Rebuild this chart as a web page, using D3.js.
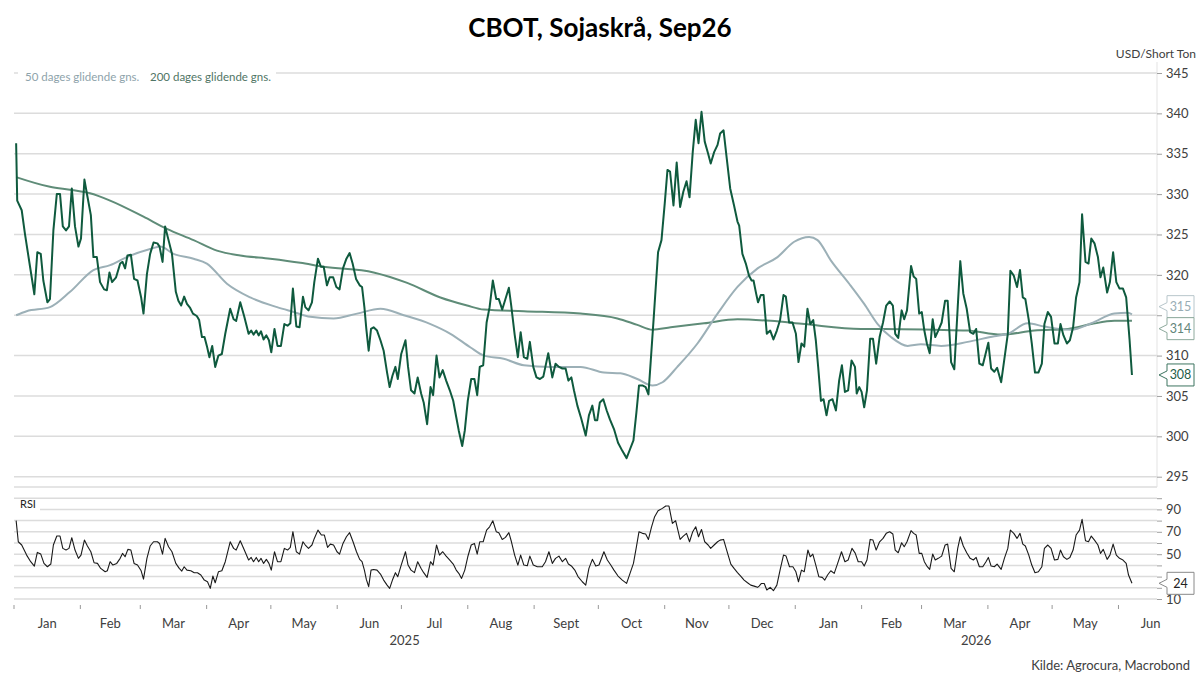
<!DOCTYPE html>
<html>
<head>
<meta charset="utf-8">
<script src="https://cdn.jsdelivr.net/npm/d3@7"></script>
<style>
body { margin: 0; background: #fff; }
svg { font-family: Lato, "Open Sans", sans-serif; }
</style>
</head>
<body>
<div id="chart"></div>
<script>
// day offsets from 2025-01-01, value
const priceData = [[1,336.3],[1.5,329.2],[3.6,328],[5.1,325.1],[7.5,321],[9.5,317.6],[10.9,322.8],[12.5,322.6],[13.7,319.3],[15.6,316.6],[16.8,317],[18.4,325.5],[20,330],[21.5,330],[22.8,326],[24.3,325.5],[25.7,326],[27,330.7],[28.5,326],[30.1,323.5],[31.3,324.5],[32.9,331.8],[34.3,329.7],[35.9,327.4],[37.1,322.2],[38.7,322.2],[40.2,319.1],[42.1,318.2],[43.4,318.1],[44.6,320.3],[45.8,319.1],[47.7,319.7],[49.6,321.4],[50.7,321.6],[51.9,320.8],[53,322.4],[54.6,322.5],[56.1,319.5],[57.7,319.3],[59.4,317.2],[60.5,315.2],[62.1,320.1],[63.6,322.6],[65.2,324],[67,323.9],[68,323.5],[69.4,321.6],[70.6,326],[72.2,324.3],[73.8,322.6],[75.6,317.9],[76.8,316.8],[78.1,316.2],[79.5,317.3],[80.8,316.4],[82.3,315.9],[83.6,315.2],[85.4,314.9],[86.5,314.4],[87.8,312.3],[89,312.3],[90.1,311.2],[91.3,309.8],[92.6,311.2],[94,308.6],[95.5,310],[97.1,310.2],[98.7,312.7],[101,315.8],[102.6,314.5],[103.8,314.3],[105.7,316.6],[107.6,314.8],[109.6,312.7],[110.8,313.1],[111.9,312.6],[113.2,313.1],[114.3,312.5],[115.4,313],[116.6,312],[117.9,312.5],[119.1,311.9],[120.2,310.4],[121.7,313.3],[123.1,311.2],[124.7,311.2],[126.3,313.9],[127.8,313.7],[129.1,314],[130.3,318.3],[131.9,313.6],[133.4,313.5],
[135,317.3],[136.1,316],[137.6,315.6],[139.2,316.6],[140.3,319.1],[142,322],[143.4,321],[144.7,321],[146.2,318.7],[147.5,319.7],[149.1,319.7],[150.6,318.5],[152.1,318.2],[153.7,320.8],[155.3,322],[156.8,322.7],[158.2,321.4],[159.8,319.5],[161.5,318.7],[162.6,318.5],[163.7,316],[164.6,313.3],[165.7,310.6],[166.8,313.3],[168,313.5],[169.6,313.1],[171.2,311.9],[172.7,310.6],[174.3,307.9],[175.5,306.1],[176.8,307.5],[178.2,308.6],[179.3,307.1],[180.9,310.2],[182.9,311.9],[184.1,308.6],[185.5,305.7],[187.1,305.3],[188.6,307.3],[190.2,305.3],[191.4,304.2],[193,301.5],[194.6,306.1],[195.8,305.1],[197.4,310],[198.8,307.3],[200.3,308.2],[201.9,306.9],[203.6,305.7],[205.2,304.4],[206.6,302.4],[207.8,300.7],[209.4,298.8],[210.6,300.7],[212,304.4],[213.6,307.1],[215.1,307.1],[216.4,305.1],[217.6,308.6],[219.2,308.8],[220.8,314.1],[222.2,316],[223.7,319.3],[225.3,317],[226.5,317],[228.1,315.7],[229.6,317],[231.2,318.4],[232.3,316.2],[233.9,312.6],[235.4,309.8],[236.7,312.9],[238.2,309.8],[239.8,309.6],[241,311.7],[242.6,308.6],[244.1,307.3],[245.7,307.1],[247.3,307.4],[249.6,310.3],[251.5,307.3],[253,309],[254.6,308.6],[256.2,308.4],[257.7,308.4],[259,306.9],[260.4,307.3],[261.6,305.7],[263.2,303.8],[265,302.2],[267.1,300.1],[268.6,302.6],[270.2,303.8],[271.4,302],[272.5,302],[273.7,304.2],[275.3,304.6],[276.9,303.2],[278.4,302.1],[280.3,300.9],[282.2,299.2],[284.2,298.2],[286.2,297.3],[287.8,298.4],[289.4,299.5],[290.8,303],[292,306.3],[293.6,306.3],[295.1,306.1],[296.4,305.2],[297.5,309.4],[299,315.2],[300.9,322.8],[302.5,324.3],[304,328.8],[305.3,333],[306.5,332.8],[308.1,328.6],[309.6,333.9],[311.2,328.4],[312.7,330.3],[314.2,331.6],[315.6,329.6],[317.1,335.2],[318.5,339.2],[319.8,336.3],[321.2,340.2],[322.7,336.5],[324.3,335],[325.5,333.8],[327.1,335.2],[328.7,336.1],[329.9,337.5],[331.5,337.9],[333,334.4],[334.6,330.7],[336.4,328.6],[338,326.6],[338.8,326.1],[340.3,322.6],[341.9,321.4],[343.4,319.9],[344.6,319.3],[345.5,319.3],[346.7,317.7],[347.6,316.6],[348.9,317.5],[350.2,317.5],[351.7,312.7],[353.3,313.1],[354.8,312],[356.4,313.1],[357.9,314.4],[359.5,317.5],[360.6,317.3],[362.1,314.1],[363.7,314.1],[365.3,312.7],[366.5,309.2],[367.9,311.5],[369.2,311.1],[370.7,315.8],[372,313.9],[373.4,314.4],[374.6,311.9],[375.7,308.6],[377,304.4],[378.2,304.6],[379.6,302.6],[380.8,304.4],[382.4,304.6],[384,303.2],[385.5,306.9],[386.8,308.8],[388.2,305.5],[389.7,305.7],[391.3,309.4],[392.9,308.6],[393.7,305.3],[394.9,306.1],[396,305.5],[397.2,303.6],[398.5,305.7],[400,312.1],[401.3,312.1],[402.8,309],[404.4,312.3],[406,314.1],[407.5,316.2],[409.1,316.7],[410.6,316.2],[411.7,312.7],[413.1,312.2],[414.7,315.6],[415.9,314.5],[417.2,315.6],[419.1,321.1],[420.3,319.8],[421.5,319.5],[422.9,315.2],[424.1,315.4],[425.3,313.1],[426.5,311.5],[427.8,310.3],[429.2,314.5],[430.4,312.3],[431.8,313.1],[433.4,314.1],[435,316.8],[436.2,316.8],[437.8,309.2],[439.3,308.3],[440.9,316],[442.1,321.7],[443.5,317.7],[445.1,315.8],[446.7,312.9],[448.2,312.7],[449.5,313.3],[451,309],[452.6,308.8],[454.1,310.4],[455.2,311.6],[456.5,308.4],[458,308],[459.3,308.5],[461.2,306.7],[462.7,309.6],[464.3,312.7],[465.5,320.5],[467.1,319.9],[468.6,318.5],[470,320.6],[471.3,317.2],[472.5,317],[474.1,314.4],[475.5,311.5],[477,307.9],[478.6,307.9],[480.2,309],[481.4,313.9],[483,315.4],[484.5,314.8],[486.1,311.5],[487.7,311.5],[488.9,313.9],[490.3,312.5],[491.9,311.5],[493.3,311.9],[494.8,313.5],[496.2,317.2],[497.8,319.1],[499,327.5],[500.6,321.6],[502,321.4],[503.3,324.5],[504.8,323.9],[506.4,322.2],[507.6,319.7],[508.9,320.9],[510.7,317.8],[512,319.1],[513.5,322.8],[515,319.1],[516.5,318.3],[518.1,318.3],[519.6,317.2],[521.2,311.9],[522.3,307.6]];

const ma50Data = [[1,315],[5.9,315.5],[16.8,316],[26.2,317.9],[37.1,320.6],[44.9,321.2],[52.7,322.2],[63.6,323.2],[68.3,323.5],[74.5,322.6],[83.9,322],[90.1,321.4],[99.5,318.9],[110.4,317.2],[122.9,316],[130.6,315.4],[138.4,314.8],[149.3,314.6],[160.3,315.2],[171.2,315.8],[182.1,315],[194.6,313.9],[203.9,312.7],[213.3,311],[219.5,310],[228.8,309.6],[238.2,308.8],[250.7,308.6],[264.7,308.6],[275.6,307.9],[283.4,307.8],[291.2,307.1],[298.3,306.3],[303,306.7],[309.9,308.6],[319.3,311.5],[328.7,315.2],[338,318.5],[347.4,320.8],[356.7,322.2],[364.5,324.1],[371.5,324.7],[375.4,324.3],[381.6,321.8],[390.2,318.9],[397.2,316.4],[403.5,313.9],[409.7,312.3],[417.5,311.2],[423.7,311.4],[433.1,311.2],[445.6,311.7],[458,312.4],[464.3,312.7],[473.6,314],[481.4,313.6],[493.9,313.2],[503.3,314],[514.1,315.2],[520.4,315.3],[522.3,315.1]];

const ma200Data = [[1,332.1],[16.8,330.9],[27,330.5],[35.5,330.1],[44.9,329.2],[60.5,327.2],[71.4,325.7],[83.9,324.3],[94.8,323],[105.7,322.4],[119.7,322],[133.8,321.5],[144.7,321],[168,320.3],[183.7,319],[199.2,317.2],[211.7,316.2],[219.5,315.7],[238.2,315.5],[264.7,315.2],[281.9,314.6],[291.2,313.8],[298.3,313.2],[306.8,313.5],[322.4,314],[338,314.5],[353.6,314.3],[369.2,313.9],[395.7,313.3],[406.6,313.3],[430,313.2],[445.6,313.1],[461.2,312.6],[476.7,313.1],[492.4,313.3],[503.3,313.9],[514.1,314.3],[522.3,314.3]];

const rsiData = [[1,80],[2,61.1],[3.6,58.2],[5.9,49.2],[7.8,43.3],[9.5,39.4],[10.9,51.6],[12.5,50.1],[14,41.8],[15.6,38.8],[17.2,41.2],[18.4,58.2],[20,66.2],[21.5,66.2],[22.8,55.2],[24.3,53.7],[25.7,55.2],[27,64.7],[28.5,53.7],[30.1,46.3],[31.3,49.2],[32.9,62.6],[34.3,57.3],[35.9,52.2],[37.4,42.4],[39,41.8],[40.5,37.3],[42.6,34.3],[43.6,35.2],[44.9,43.3],[46.2,40.3],[48,41.8],[49.6,46.3],[50.7,50.7],[51.9,47.7],[53.2,54.3],[54.6,53.7],[56.1,41.8],[57.7,40.3],[59.4,35.2],[60.5,27.8],[62.1,46.3],[63.6,57.3],[65.2,61.1],[67,61.1],[68,59.6],[69.4,50.1],[70.6,64.1],[72.2,56.7],[73.8,52.2],[75.6,41.8],[77.2,37.3],[78.4,34.9],[79.5,38.8],[80.8,35.8],[82.6,35.2],[84.2,33.5],[85.7,33.5],[87.3,31.4],[88.9,26.9],[90.4,25.4],[91.7,19.5],[92.9,30.5],[94,24.5],[95.5,34.3],[97.1,35.2],[98.7,43.3],[101,61.1],[102.6,55.2],[103.8,53.7],[105.7,62],[107.6,53.7],[109.6,44.8],[110.8,47.1],[111.9,43.3],[113.2,47.1],[114.3,43.3],[115.4,46.3],[116.6,41.8],[117.9,45.4],[119.1,41.8],[120.2,35.8],[121.7,52.2],[123.1,43.3],[124.7,43.3],[126.3,55.2],[127.8,53.7],[129.1,56.1],[130.3,70.1],[131.9,52.2],[133.4,50.1],[135,61.1],[136.1,58.2],[137.6,55.2],[139.2,58.2],[140.3,64.1],[142,71.5],[143.6,67.1],[145,67.1],[146.5,56.1],[147.8,59],[149.3,58.2],[150.9,52.2],[152.1,50.1],[153.7,59.6],[155.3,65.6],[156.8,69.2],[158.4,61.1],[160,52.2],[161.5,45.4],[162.6,43.3],[163.7,35.8],[164.6,27.5],[165.7,21],[166.8,35.8],[168,36.4],[169.6,35.8],[171.2,32.3],[172.7,26.9],[174.3,22.4],[175.5,19.5],[176.8,26.9],[178.2,33.5],[179.3,29.9],[180.9,40.3],[182.9,52.2],[184.1,40.3],[185.5,35.8],[187.1,33.5],[188.6,43.3],[190.2,37.3],[191.4,33.5],[193,29.3],[194.6,43.3],[195.8,40.3],[197.4,58.2],[198.8,49.2],[200.3,52.2],[201.9,48.3],[203.6,44.8],[205.2,41.2],[206.6,35.8],[207.8,32.9],[209.1,28.4],[210.6,35.8],[212,47.7],[213.6,58.2],[215.1,59.6],[216.4,50.1],[217.6,61.1],[219.2,61.1],[220.8,71.5],[222.2,74.5],[223.7,79.9],[225.3,70.1],[226.5,69.2],[228.1,63.2],[229.6,65],[231.2,69.2],[232.4,61.1],[233.9,49.2],[235.4,40.3],[236.7,49.2],[238.2,40.3],[239.8,39.7],[241,48.3],[242.6,40.3],[244.5,38.8],[246.8,38.8],[248.3,43.3],[249.9,52.2],[251.5,41.8],[253,46.3],[254.6,48.3],[256.2,43.3],[257.7,46.3],[259,41.2],[260.4,39.5],[262,35.8],[263.5,30],[265.5,25.4],[267.1,22.4],[268.6,37.3],[270.2,45.4],[271.8,39.4],[273.3,40.3],[275.6,52.2],[277.2,44.8],[278.8,40.3],[280.3,35.8],[282.2,30.5],[284.2,26.9],[286.2,23.9],[287.8,32.9],[289.4,41.8],[290.8,56.7],[292,70.1],[293.6,68.6],[295.1,68],[296.4,63.2],[297.8,73.9],[299.3,83.5],[300.9,88.8],[302.9,90.9],[304.5,93],[306,93],[307.6,77.5],[309.1,79.9],[311.2,63.2],[312.7,66.2],[314.2,68.6],[315.6,61.1],[317.1,70.1],[318.5,74.5],[319.8,65.6],[321.2,72.1],[322.7,61.1],[324.3,58.2],[325.5,55.2],[327.1,58.2],[328.7,61.1],[329.9,62.6],[331.5,63.2],[333.4,50.7],[334.9,41.2],[336.4,37.3],[338,33.5],[339.5,30.5],[341.1,26.9],[342.7,24.5],[344.2,22.4],[345.8,21.5],[347.4,20.4],[348.1,21.5],[349.2,23.9],[350.5,23.9],[351.7,18],[353.3,20.4],[354.8,17.4],[356.4,22.4],[357.9,35.8],[359.5,49.2],[360.7,48.3],[362.3,38.8],[363.9,38.8],[365.3,34.3],[366.5,25.4],[367.9,35.8],[369.2,34.3],[370.9,53.7],[372,47.7],[373.2,50.1],[374.6,40.3],[376,29.9],[377.6,29.3],[378.8,26.9],[380.1,31.4],[381.6,35.2],[383.2,32.9],[384.8,41.8],[386.6,52.2],[388.2,43.3],[389.7,44.8],[391.5,55.2],[393,51],[394.4,43.3],[396,43.3],[397.2,39.4],[398.5,44.8],[400,63.2],[401.3,62.6],[402.8,53.7],[404.4,61.1],[406,64.1],[407.5,68.6],[409.1,70.1],[410.6,68],[411.7,53.7],[413.1,51.3],[414.7,60.2],[415.9,56.7],[417.2,61.1],[419.1,71],[420.3,68.6],[421.5,67.1],[422.9,50.7],[424.1,50.7],[425.3,43.3],[426.5,39.4],[427.8,36.4],[429.2,50.1],[430.4,44.8],[431.8,46.3],[433.4,48.3],[435,58.2],[436.2,59],[437.8,37.3],[439.3,34.3],[440.9,55.2],[442.1,65.6],[443.5,57.3],[445.1,51.3],[446.7,46.3],[448.2,44.8],[449.5,47.1],[451,38.8],[452.6,38.8],[454.1,43.3],[455.2,47.1],[456.5,39.4],[458,38.8],[459.3,41.2],[461.2,36.4],[462.7,46.3],[464.3,55.2],[465.5,71.5],[467.1,68.6],[468.6,64.1],[470,68.6],[471.3,59],[472.5,57.3],[474.1,49.2],[475.5,40.3],[477,33.5],[478.6,34.3],[480.2,38.8],[481.4,55.2],[483,58.2],[484.5,55.2],[486.1,44.8],[487.7,45.4],[488.9,53.7],[490.3,47.7],[491.9,45.4],[493.3,47.1],[494.8,53.7],[496.2,67.1],[497.8,71.5],[499,81.1],[500.6,62],[502,61.1],[503.3,66.2],[504.8,62.6],[506.4,58.2],[507.6,50.7],[508.9,54.3],[510.7,45.4],[512,49.2],[513.5,59],[515,49.2],[516.5,46.3],[518.1,44.8],[519.6,41.8],[520.7,31.4],[522.3,24]];

const monthNames = ["Jan","Feb","Mar","Apr","May","Jun","Jul","Aug","Sept","Oct","Nov","Dec"];
const priceTicks = [295,300,305,310,315,320,325,330,335,340,345];
const rsiGrid = [10,20,30,40,50,60,70,80,90,100,110];
const rsiTickMarks = [10,20,30,40,50,60,70,80,90,100];
const rsiLabels = [10,30,50,70,90];

const width = 1200, height = 683;
const left = 14, right = 1157;
const t0 = Date.UTC(2025,0,1);
const toDate = d => new Date(t0 + d*864e5);

const svg = d3.select('#chart').append('svg')
    .attr('width', width).attr('height', height);

const x = d3.scaleUtc().domain([new Date(t0), new Date(Date.UTC(2026,5,19))]).range([left, right]);
const y = d3.scaleLinear().domain([295,345]).range([476.7,73]);
const yr = d3.scaleLinear().domain([0,110]).range([610.2,487]);

const gridColor = '#dcdcdc', textColor = '#404040';
const c50 = '#9cb0b7', c200 = '#5f8c78', cPrice = '#0f5a3e';

// last-value callout positions (the two moving averages are spread apart)
const last = a => a[a.length-1][1];
const yA = y(last(ma50Data)), yB = y(last(ma200Data));
const mid = (yA + yB) / 2;
const callouts = [
  {tip: mid - 11, v: last(ma50Data), stroke: '#b8c6cb', color: '#98adb4'},
  {tip: mid + 11, v: last(ma200Data), stroke: '#8eaa9d', color: '#62857a'},
  {tip: y(last(priceData)), v: last(priceData), stroke: '#3d7460', color: '#1f5e47'},
  {tip: yr(last(rsiData)), v: last(rsiData), stroke: '#8a8a8a', color: '#222'}
];
const hidden = py => callouts.some(c => Math.abs(c.tip - py) < 14);

// title
svg.append('text').attr('x', 600).attr('y', 37).attr('text-anchor','middle')
    .style('font-size','26px').style('font-weight','bold').style('fill','#000')
    .text('CBOT, Sojaskrå, Sep26');

svg.append('text').attr('x', 1196).attr('y', 58).attr('text-anchor','end')
    .style('font-size','12px').style('fill',textColor).text('USD/Short Ton');

// gridlines
svg.append('g').selectAll('line').data(priceTicks).enter().append('line')
    .attr('x1', left).attr('x2', right).attr('y1', d=>y(d)).attr('y2', d=>y(d))
    .style('stroke', gridColor).style('stroke-width', 1.5);
svg.append('g').selectAll('line').data(rsiGrid).enter().append('line')
    .attr('x1', left).attr('x2', right).attr('y1', d=>yr(d)).attr('y2', d=>yr(d))
    .style('stroke', gridColor).style('stroke-width', 1.5);

// right axis line
svg.append('line').attr('x1', right).attr('x2', right).attr('y1', 62).attr('y2', 487)
    .style('stroke', '#e3e3e3').style('stroke-width', 1);

// price axis
const yAxis = d3.axisRight(y).tickValues(priceTicks).tickSize(5).tickPadding(4).tickSizeOuter(0)
    .tickFormat(d => hidden(y(d)) ? '' : d);
const gy = svg.append('g').attr('transform','translate(' + right + ',0)').call(yAxis);
gy.select('.domain').remove();
gy.selectAll('.tick line').style('stroke','#a0a0a0');
gy.selectAll('.tick text').style('font-size','13px').style('fill',textColor).style('font-family','Lato, sans-serif');

// rsi axis
const rAxis = d3.axisRight(yr).tickValues(rsiTickMarks).tickSize(5).tickPadding(4)
    .tickFormat(d => rsiLabels.includes(d) && !hidden(yr(d)) ? d : '');
const gr = svg.append('g').attr('transform','translate(' + right + ',0)').call(rAxis);
gr.select('.domain').remove();
gr.selectAll('.tick line').style('stroke','#a0a0a0');
gr.selectAll('.tick text').style('font-size','13px').style('fill',textColor).style('font-family','Lato, sans-serif');

// x axis ticks at month starts
const monthStarts = d3.utcMonth.range(new Date(t0), new Date(Date.UTC(2026,5,2)));
svg.append('g').selectAll('line').data(monthStarts).enter().append('line')
    .attr('x1', d=>x(d)).attr('x2', d=>x(d)).attr('y1', 605).attr('y2', 609)
    .style('stroke','#999').style('stroke-width',1);
const months = d3.utcMonth.range(new Date(t0), new Date(Date.UTC(2026,6,1)));
svg.append('g').selectAll('text').data(months).enter().append('text')
    .attr('x', d => (x(d) + x(d3.utcMonth.offset(d,1)))/2)
    .attr('y', 628).attr('text-anchor','middle')
    .style('font-size','13px').style('fill',textColor)
    .text(d => monthNames[d.getUTCMonth()]);
const years = [[new Date(t0), new Date(Date.UTC(2026,0,1)), '2025'],
               [new Date(Date.UTC(2026,0,1)), x.domain()[1], '2026']];
svg.append('g').selectAll('text').data(years).enter().append('text')
    .attr('x', d => (x(d[0]) + x(d[1]))/2).attr('y', 645).attr('text-anchor','middle')
    .style('font-size','13px').style('fill',textColor).text(d => d[2]);

// lines
const line = d3.line().x(d => x(toDate(d[0]))).y(d => y(d[1]));
const rline = d3.line().x(d => x(toDate(d[0]))).y(d => yr(d[1]));

svg.append('path').datum(ma200Data).attr('d', line.curve(d3.curveMonotoneX))
    .style('fill','none').style('stroke',c200).style('stroke-width',2);
svg.append('path').datum(ma50Data).attr('d', line)
    .style('fill','none').style('stroke',c50).style('stroke-width',2);
svg.append('path').datum(priceData).attr('d', line.curve(d3.curveLinear))
    .style('fill','none').style('stroke',cPrice).style('stroke-width',2).style('stroke-linejoin','round');
svg.append('path').datum(rsiData).attr('d', rline)
    .style('fill','none').style('stroke','#1a1a1a').style('stroke-width',1.1).style('stroke-linejoin','round');

// legend
svg.append('rect').attr('x', 18).attr('y', 67).attr('width', 258).attr('height', 18).style('fill','#fff');
svg.append('text').attr('x', 25).attr('y', 81).style('font-size','11.5px').style('fill','#8ea3ab').text('50 dages glidende gns.');
svg.append('text').attr('x', 150).attr('y', 81).style('font-size','11.5px').style('fill','#4f7565').text('200 dages glidende gns.');

// RSI label
svg.append('rect').attr('x', 14).attr('y', 500).attr('width', 26).attr('height', 12).style('fill','#fff');
svg.append('text').attr('x', 20).attr('y', 508).style('font-size','11px').style('fill','#222').text('RSI');

// callouts
const bl = 1167, br = 1194, h = 11, tip = 1159;
const cg = svg.append('g').selectAll('g').data(callouts).enter().append('g');
cg.append('path')
  .attr('d', c => `M${tip},${c.tip} L${bl},${c.tip-4} L${bl},${c.tip-h} L${br},${c.tip-h} L${br},${c.tip+h} L${bl},${c.tip+h} L${bl},${c.tip+4} Z`)
  .style('fill','#fff').style('stroke', c => c.stroke).style('stroke-width',1);
cg.append('text').attr('x', (bl+br)/2).attr('y', c => c.tip).attr('dy','0.35em')
  .attr('text-anchor','middle').style('font-size','12.5px').style('fill', c => c.color)
  .text(c => Math.round(c.v));

// source
svg.append('text').attr('x', 1190).attr('y', 670).attr('text-anchor','end')
    .style('font-size','13px').style('fill',textColor).text('Kilde: Agrocura, Macrobond');
</script>
</body>
</html>
